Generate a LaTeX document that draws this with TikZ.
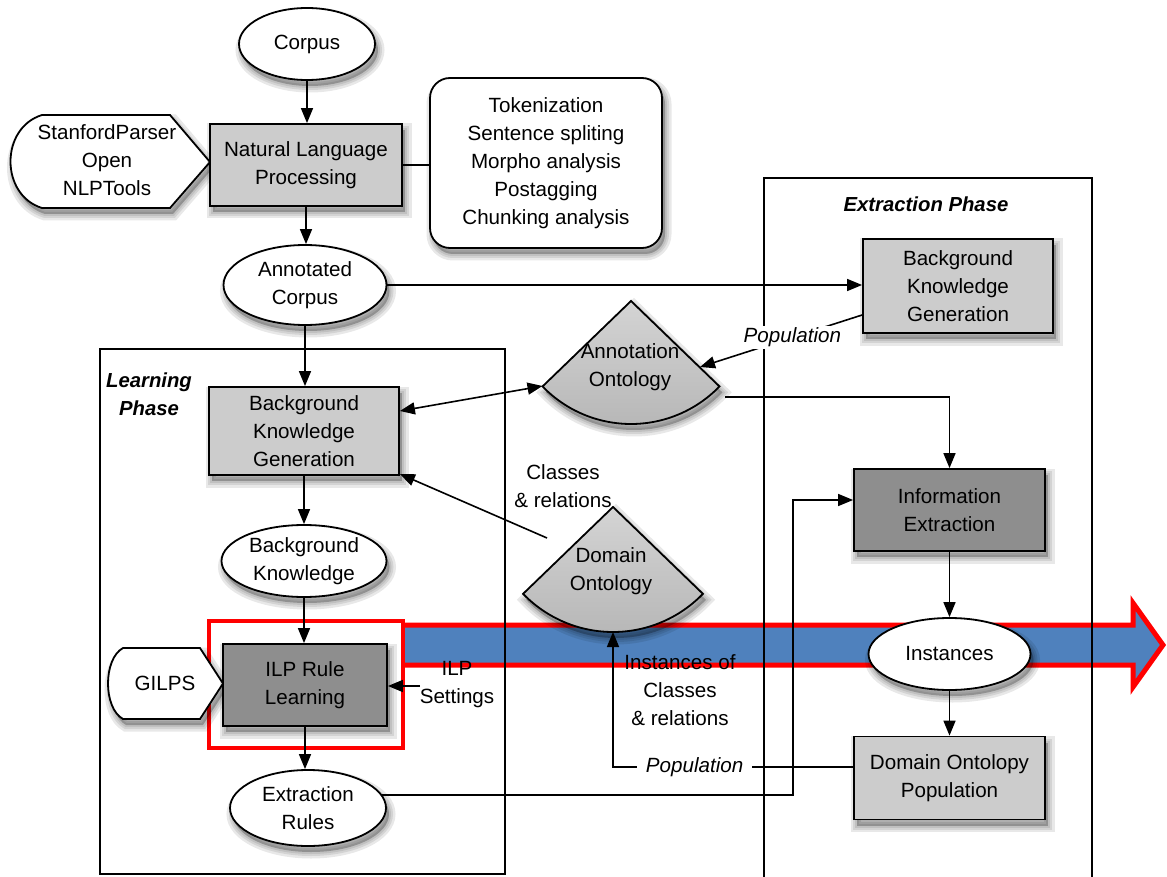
\documentclass[tikz,border=0pt]{standalone}
\usepackage{fontspec}
\setmainfont{Liberation Sans}
\usetikzlibrary{shapes.geometric,arrows.meta,calc}

\definecolor{boxlight}{HTML}{CCCCCC}
\definecolor{boxdark}{HTML}{8E8E8E}
\definecolor{bandblue}{HTML}{4F81BD}
\definecolor{ontotop}{HTML}{D4D4D4}
\definecolor{ontobot}{HTML}{B6B6B6}

\begin{document}
\begin{tikzpicture}[x=1pt,y=-1pt,
  txt/.style={font=\fontsize{20.6}{28}\selectfont, align=center},
  shadowlayer/.style={preaction={fill=black, fill opacity=0.09, draw=black, draw opacity=0.09,
      line width=#1, transform canvas={xshift=3pt,yshift=-6pt}}},
  softshadow/.style={shadowlayer=13pt, shadowlayer=8pt, shadowlayer=4pt},
  proc/.style={txt, draw, line width=1.8pt, fill=boxlight, softshadow, inner sep=0pt},
  datanode/.style={txt, ellipse, draw, line width=1.8pt, fill=white, softshadow, inner sep=0pt},
  arr/.style={line width=1.6pt, -{Triangle[length=15pt,width=12pt]}},
  dbl/.style={line width=1.6pt, {Triangle[length=15pt,width=12pt]}-{Triangle[length=15pt,width=12pt]}},
  link/.style={line width=1.6pt},
  pop/.style={font=\fontsize{20.6}{28}\selectfont\itshape, fill=white, inner xsep=9pt, inner ysep=2pt},
  phasebox/.style={draw, line width=1.5pt},
  ptitle/.style={font=\fontsize{20.3}{28}\selectfont\bfseries\itshape, align=center}
]
\useasboundingbox (0,0) rectangle (1167,877);

% main flow band (drawn first, everything else sits on top)
\fill[bandblue] (403,625) -- (1133,625) -- (1133,603) -- (1163,645) -- (1133,687) -- (1133,665) -- (403,665) -- cycle;
\draw[red, line width=5pt, line join=miter] (403,625) -- (1133,625) -- (1133,603) -- (1163,645) -- (1133,687) -- (1133,665) -- (403,665);
\draw[red, line width=4.5pt] (209,621) rectangle (403,748);

% phase frames
\draw[phasebox] (100,349) rectangle (505,874);
\draw[phasebox] (764,178) rectangle (1092,900);
\node[ptitle] (lpT) at (149,394) {Learning\\Phase};
\node[ptitle] (epT) at (926,204) {Extraction Phase};

% preprocessing
\node[datanode, minimum width=136pt, minimum height=72pt] (corpus) at (307,44) {Corpus};
\path[draw, line width=1.8pt, fill=white, softshadow]
  (42,115) -- (170,115) -- (210,162) -- (170,208) -- (42,208)
  .. controls (0,195) and (0,128) .. (42,115) -- cycle;
\node[txt] (sp) at (107,160) {StanfordParser\\Open\\NLPTools};
\node[proc, minimum width=192pt, minimum height=82pt] (nlp) at (306,165) {Natural Language\\Processing};
\node[txt, draw, line width=1.8pt, rounded corners=20pt, fill=white, softshadow,
      minimum width=232pt, minimum height=170pt] (tok) at (546,163)
  {Tokenization\\Sentence spliting\\Morpho analysis\\Postagging\\Chunking analysis};
\node[datanode, minimum width=163pt, minimum height=80pt] (annc) at (305,285) {Annotated\\Corpus};

% learning phase
\node[proc, minimum width=190pt, minimum height=88pt] (bkgL) at (304,431) {Background\\Knowledge\\Generation};
\node[datanode, minimum width=165pt, minimum height=72pt] (bk) at (304,561) {Background\\Knowledge};
\path[draw, line width=1.8pt, fill=white, softshadow]
  (123,648) -- (200,648) -- (223,683.5) -- (200,719) -- (123,719)
  .. controls (103,708) and (103,659) .. (123,648) -- cycle;
\node[txt] (gilps) at (165,683) {GILPS};
\node[proc, fill=boxdark, minimum width=164pt, minimum height=82pt] (ilp) at (305,685) {ILP Rule\\Learning};
\node[datanode, minimum width=156pt, minimum height=76pt] (exr) at (308,808) {Extraction\\Rules};

% ontologies
\coordinate (aoApex) at (631,301);
\path[draw, line width=1.8pt, top color=ontotop, bottom color=ontobot, softshadow]
  (aoApex) -- ++(224:123pt) arc[start angle=224, end angle=316, radius=123pt] -- cycle;
\node[txt] (aoT) at (630,367) {Annotation\\Ontology};
\coordinate (aoL) at (542.5,386);
\coordinate (aoR) at (700,367);
\coordinate (aoOut) at (725,397);

\coordinate (doApex) at (613,507);
\path[draw, line width=1.8pt, top color=ontotop, bottom color=ontobot, softshadow]
  (doApex) -- ++(224:125pt) arc[start angle=224, end angle=316, radius=125pt] -- cycle;
\node[txt] (doT) at (611,571) {Domain\\Ontology};
\coordinate (doBot) at (613,632);

% extraction phase
\node[proc, minimum width=190pt, minimum height=94pt] (bkgE) at (958,286) {Background\\Knowledge\\Generation};
\node[proc, fill=boxdark, minimum width=191pt, minimum height=82pt] (ie) at (949.5,510) {Information\\Extraction};
\node[datanode, minimum width=162pt, minimum height=72pt] (inst) at (949.5,654) {Instances};
\node[proc, minimum width=191pt, minimum height=83pt] (dop) at (949.5,778) {Domain Ontolopy\\Population};

% connectors
\draw[arr] (corpus.south) -- (corpus.south |- nlp.north);
\draw[link] (nlp.east) -- (nlp.east -| tok.west);
\draw[arr] (nlp.south) -- (nlp.south |- annc.north);
\draw[arr] (annc.south) -- (annc.south |- bkgL.north);
\draw[arr] (annc.east) -- (annc.east -| bkgE.west);
\draw[arr] (bkgL.south) -- (bkgL.south |- bk.north);
\draw[arr] (bk.south) -- (bk.south |- ilp.north);
\draw[arr] (ilp.south) -- (ilp.south |- exr.north);
\draw[dbl] ([yshift=20pt]bkgL.east) -- (aoL);

\coordinate (clsFrom) at (547,538);
\draw[arr] (clsFrom) -- ([yshift=-43pt]bkgL.east);
\node[txt] (clsT) at (563,486) {Classes\\\& relations};

\draw[arr] ([yshift=-29pt]bkgE.west) -- node[pop, pos=0.43] (popA) {Population} (aoR);
\draw[arr] (aoOut) -| (ie.north);

\coordinate (erTurn) at (793,500);
\draw[arr] (exr.10) -| (erTurn) -- (erTurn -| ie.west);
\draw[arr] (ie.south) -- (ie.south |- inst.north);
\draw[arr] (inst.south) -- (inst.south |- dop.north);
\draw[arr] ([yshift=11pt]dop.west) -| node[pop, pos=0.33] (popB) {Population} (doBot);

\coordinate (ilpS) at (420,686);
\draw[arr] (ilpS) -- (ilpS -| ilp.east);
\node[txt] (ilpT) at (457,685) {ILP\\Settings};

\node[txt] (instT) at (680,690) {Instances of\\Classes\\\& relations};
\end{tikzpicture}
\end{document}
